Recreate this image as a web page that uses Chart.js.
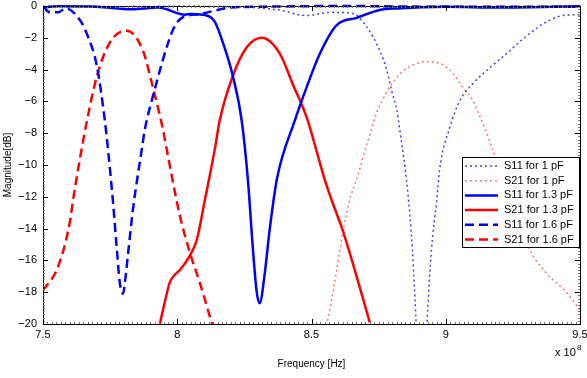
<!DOCTYPE html>
<html>
<head>
<meta charset="utf-8">
<script src="https://cdn.jsdelivr.net/npm/chart.js@4"></script>
<style>
  html, body { margin: 0; padding: 0; background: #fff; }
  #wrap { width: 587px; height: 378px; }
</style>
</head>
<body>
<div id="wrap"><canvas id="myChart"></canvas></div>
<script>
// frequency in units of 1e8 Hz, magnitude in dB
const xTicks = [7.5, 8, 8.5, 9, 9.5];
const yTicks = [0, -2, -4, -6, -8, -10, -12, -14, -16, -18, -20];

const fS11_1 = [7.5, 7.8, 8.0, 8.2, 8.38, 8.48, 8.57, 8.65, 8.705, 8.754, 8.78, 8.798, 8.817, 8.828, 8.862, 8.88, 8.891, 8.91, 8.929, 8.947, 8.966, 8.977, 9.014, 9.051, 9.1, 9.163, 9.226, 9.286, 9.338, 9.386, 9.435, 9.5];
const mS11_1 = [-0.02, -0.03, -0.02, -0.05, -0.25, -0.6, -0.4, -0.45, -1.3, -2.8, -4.0, -5.3, -6.5, -7.7, -12.3, -16.6, -20.5, -30, -20.5, -15.3, -12.3, -10.3, -7.7, -6.0, -4.9, -3.9, -3.0, -2.1, -1.4, -0.9, -0.6, -0.55];

const fS21_1 = [8.56, 8.575, 8.594, 8.616, 8.642, 8.668, 8.724, 8.743, 8.765, 8.791, 8.828, 8.865, 8.929, 8.977, 9.025, 9.063, 9.1, 9.126, 9.144, 9.174, 9.312, 9.375, 9.449, 9.5];
const mS21_1 = [-19.8, -18.5, -16.6, -14.3, -12.2, -10.9, -7.7, -6.7, -5.9, -5.1, -4.3, -3.8, -3.5, -3.6, -4.2, -5.1, -5.9, -6.9, -7.6, -9.0, -15.3, -16.8, -18.0, -19.1];

const fS11_13 = [7.5, 7.556, 7.7, 7.83, 7.93, 8.028, 8.05, 8.11, 8.14, 8.17, 8.207, 8.24, 8.263, 8.281, 8.296, 8.307, 8.326, 8.344, 8.371, 8.438, 8.482, 8.531, 8.594, 8.668, 8.754, 8.817, 9.0, 9.2, 9.5];
const mS11_13 = [-0.1, -0.02, -0.05, -0.2, -0.1, -0.55, -0.5, -0.6, -1.0, -2.3, -4.4, -7.2, -10.9, -15.1, -18.0, -18.7, -16.8, -14.1, -10.9, -7.2, -5.1, -3.0, -1.2, -0.75, -0.25, -0.15, -0.05, -0.1, -0.02];

const fS21_13 = [7.935, 7.954, 7.972, 7.991, 8.01, 8.047, 8.073, 8.103, 8.14, 8.158, 8.207, 8.259, 8.315, 8.382, 8.43, 8.482, 8.549, 8.575, 8.616, 8.668, 8.717];
const mS21_13 = [-20, -18.6, -17.4, -16.9, -16.6, -15.7, -14.7, -12.2, -9.0, -7.2, -4.4, -2.6, -2.0, -3.0, -4.9, -7.0, -10.9, -12.2, -14.1, -17.0, -19.9];

const fS11_16 = [7.5, 7.526, 7.556, 7.585, 7.638, 7.667, 7.701, 7.731, 7.742, 7.76, 7.775, 7.786, 7.798, 7.805, 7.816, 7.835, 7.868, 7.879, 7.909, 7.984, 8.017, 8.084, 8.2, 8.3, 8.6, 9.0, 9.5];
const mS11_16 = [-0.05, -0.4, -0.4, -0.15, -0.9, -1.9, -3.8, -7.3, -9.0, -12.2, -15.3, -17.4, -18.1, -17.4, -15.7, -12.8, -9.0, -7.8, -5.7, -1.5, -0.75, -0.5, -0.1, -0.05, 0, -0.05, -0.05];

const fS21_16 = [7.5, 7.556, 7.6, 7.612, 7.664, 7.701, 7.749, 7.812, 7.872, 7.909, 7.946, 7.965, 8.01, 8.047, 8.084, 8.121, 8.135];
const mS21_16 = [-17.9, -16.4, -13.6, -12.2, -7.2, -4.4, -2.3, -1.55, -2.8, -5.1, -7.7, -9.4, -13.2, -15.5, -17.4, -19.5, -20.3];

const labels = ['S11 for 1 pF', 'S21 for 1 pF', 'S11 for 1.3 pF', 'S21 for 1.3 pF', 'S11 for 1.6 pF', 'S21 for 1.6 pF'];

function pts(xs, ys) {
  return xs.map((x, i) => ({x: x, y: ys[i]}));
}

const dotted = [2, 3];
const dashed = [9, 5];

function ds(label, xs, ys, color, width, dash) {
  return {
    label: label,
    data: pts(xs, ys),
    borderColor: color,
    backgroundColor: color,
    borderWidth: width,
    borderDash: dash,
    pointRadius: 0,
    cubicInterpolationMode: 'monotone',
    clip: {left: 0, right: 0, top: 3, bottom: 0}
  };
}

const font = 'Liberation Sans, Arial, sans-serif';

// MATLAB-style box, inward ticks, exponent label and legend
const matlabAxes = {
  id: 'matlabAxes',
  afterDraw(chart) {
    const c = chart.ctx;
    const a = chart.chartArea;
    const xs = chart.scales.x, ys = chart.scales.y;
    c.save();
    c.strokeStyle = '#000';
    c.lineWidth = 1;
    c.strokeRect(Math.round(a.left) + 0.5, Math.round(a.top) + 0.5, Math.round(a.right - a.left), Math.round(a.bottom - a.top));

    // minor ticks
    c.strokeStyle = '#777';
    c.beginPath();
    for (let v = 7.5; v <= 9.5001; v += 0.5 / 30) {
      const px = Math.round(xs.getPixelForValue(v)) + 0.5;
      c.moveTo(px, a.bottom); c.lineTo(px, a.bottom - 2);
      c.moveTo(px, a.top); c.lineTo(px, a.top + 2);
    }
    for (let v = -20; v <= 0.001; v += 0.2) {
      const py = Math.round(ys.getPixelForValue(v)) + 0.5;
      c.moveTo(a.left, py); c.lineTo(a.left + 2, py);
      c.moveTo(a.right, py); c.lineTo(a.right - 2, py);
    }
    c.stroke();

    // major ticks
    c.strokeStyle = '#000';
    c.beginPath();
    xTicks.forEach(v => {
      const px = Math.round(xs.getPixelForValue(v)) + 0.5;
      c.moveTo(px, a.bottom); c.lineTo(px, a.bottom - 5);
      c.moveTo(px, a.top); c.lineTo(px, a.top + 5);
    });
    yTicks.forEach(v => {
      const py = Math.round(ys.getPixelForValue(v)) + 0.5;
      c.moveTo(a.left, py); c.lineTo(a.left + 5, py);
      c.moveTo(a.right, py); c.lineTo(a.right - 5, py);
    });
    c.stroke();

    // exponent
    c.fillStyle = '#000';
    c.textBaseline = 'alphabetic';
    c.textAlign = 'left';
    c.font = '11px ' + font;
    c.fillText('x 10', 555, 356);
    c.font = '8px ' + font;
    c.fillText('8', 577, 350);

    // legend
    const lx = 462, ly = 157, lw = 117, lh = 90;
    c.fillStyle = '#fff';
    c.fillRect(lx, ly, lw, lh);
    c.strokeStyle = '#000';
    c.lineWidth = 1;
    c.strokeRect(lx + 0.5, ly + 0.5, lw, lh);
    c.font = '11px ' + font;
    c.textBaseline = 'middle';
    chart.data.datasets.forEach((d, i) => {
      const y = ly + 9 + i * 14.7;
      c.strokeStyle = d.borderColor;
      c.lineWidth = d.borderWidth;
      c.setLineDash(d.borderDash || []);
      c.beginPath();
      c.moveTo(lx + 3, y); c.lineTo(lx + 36, y);
      c.stroke();
      c.setLineDash([]);
      c.fillStyle = '#000';
      c.fillText(d.label, lx + 42, y);
    });
    c.restore();
  }
};

new Chart(document.getElementById('myChart'), {
  type: 'line',
  data: {
    datasets: [
      ds(labels[0], fS11_1, mS11_1, 'rgba(0,0,255,0.75)', 1.5, dotted),
      ds(labels[1], fS21_1, mS21_1, 'rgba(255,0,0,0.55)', 1.5, dotted),
      ds(labels[2], fS11_13, mS11_13, '#0000ff', 2.5, []),
      ds(labels[3], fS21_13, mS21_13, '#ff0000', 2.5, []),
      ds(labels[4], fS11_16, mS11_16, '#0000ff', 2.5, dashed),
      ds(labels[5], fS21_16, mS21_16, '#ff0000', 2.5, dashed)
    ]
  },
  options: {
    responsive: true,
    maintainAspectRatio: false,
    animation: false,
    layout: { padding: { top: 6, right: 7, left: 0, bottom: 0 } },
    plugins: {
      legend: { display: false },
      tooltip: { enabled: false }
    },
    scales: {
      x: {
        type: 'linear',
        min: 7.5,
        max: 9.5,
        afterBuildTicks: s => { s.ticks = xTicks.map(v => ({value: v})); },
        afterFit: s => { s.height = 54; s.paddingLeft = 0; s.paddingRight = 0; },
        ticks: {
          color: '#000',
          font: { family: font, size: 11 },
          padding: 4,
          maxRotation: 0,
          callback: v => String(v)
        },
        grid: { display: false, drawTicks: false },
        border: { display: false },
        title: {
          display: true,
          text: 'Frequency [Hz]',
          color: '#000',
          font: { family: font, size: 10 },
          padding: { top: 4, bottom: 8 }
        }
      },
      y: {
        min: -20,
        max: 0,
        afterBuildTicks: s => { s.ticks = yTicks.map(v => ({value: v})); },
        afterFit: s => { s.width = 43; s.paddingTop = 0; s.paddingBottom = 0; },
        ticks: {
          color: '#000',
          font: { family: font, size: 11 },
          padding: 6,
          callback: v => (v < 0 ? '\u2212' + Math.abs(v) : String(v))
        },
        grid: { display: false, drawTicks: false },
        border: { display: false },
        title: {
          display: true,
          text: 'Magnitude[dB]',
          color: '#000',
          font: { family: font, size: 10 },
          padding: { top: 2, bottom: 0 }
        }
      }
    }
  },
  plugins: [matlabAxes]
});
</script>
</body>
</html>
